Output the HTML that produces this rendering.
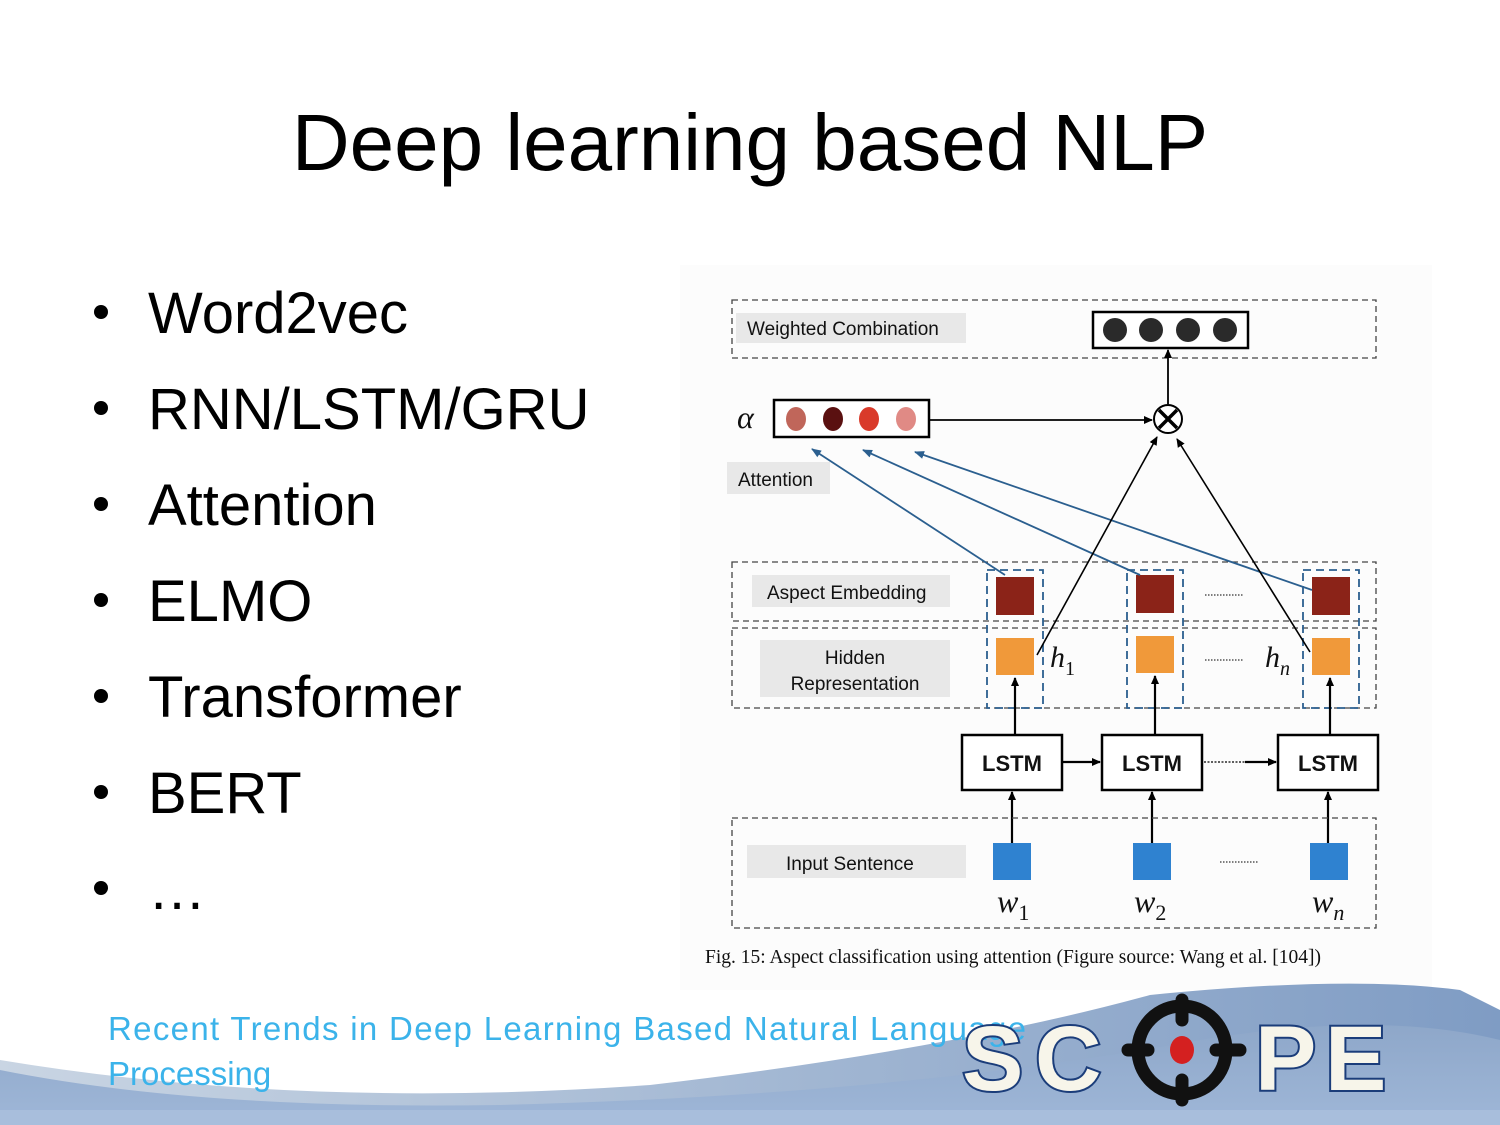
<!DOCTYPE html>
<html><head><meta charset="utf-8"><style>
html,body{margin:0;padding:0;background:#fff}
svg{display:block}
</style></head><body>
<svg width="1500" height="1125" viewBox="0 0 1500 1125" xmlns="http://www.w3.org/2000/svg">
<defs>
<marker id="ak" markerWidth="10" markerHeight="10" refX="8" refY="5" orient="auto" markerUnits="userSpaceOnUse"><path d="M0,1 L9,5 L0,9 Z" fill="#000"/></marker>
<marker id="ab" markerWidth="12" markerHeight="10" refX="9" refY="5" orient="auto" markerUnits="userSpaceOnUse"><path d="M0,1 L10,5 L0,9 Z" fill="#2b5f8f"/></marker>
<linearGradient id="band" x1="0" y1="0" x2="0" y2="1"><stop offset="0" stop-color="#8ea7c9"/><stop offset="1" stop-color="#9fb7d8"/></linearGradient>
<linearGradient id="band2" x1="0" y1="0" x2="1" y2="0"><stop offset="0" stop-color="#c9d5e3"/><stop offset="1" stop-color="#7f9cc4"/></linearGradient>
</defs>
<rect width="1500" height="1125" fill="#fff"/>
<text x="750" y="170" text-anchor="middle" font-family="Liberation Sans, sans-serif" font-size="80" fill="#000">Deep learning based NLP</text>
<g font-family="Liberation Sans, sans-serif" font-size="58" fill="#000">
<circle cx="101" cy="312" r="7"/><text x="148" y="333">Word2vec</text>
<circle cx="101" cy="408" r="7"/><text x="148" y="429">RNN/LSTM/GRU</text>
<circle cx="101" cy="504" r="7"/><text x="148" y="525">Attention</text>
<circle cx="101" cy="600" r="7"/><text x="148" y="621">ELMO</text>
<circle cx="101" cy="696" r="7"/><text x="148" y="717">Transformer</text>
<circle cx="101" cy="792" r="7"/><text x="148" y="813">BERT</text>
<circle cx="101" cy="888" r="7"/><text x="148" y="909">…</text>
</g>
<rect x="680" y="265" width="752" height="725" fill="#fcfcfc"/>
<g font-family="Liberation Sans, sans-serif" font-size="19" fill="#111">
<rect x="732" y="300" width="644" height="58" fill="none" stroke="#444" stroke-width="1.3" stroke-dasharray="6,4"/>
<rect x="736" y="313" width="230" height="30" fill="#e8e8e8"/>
<text x="747" y="335">Weighted Combination</text>
<rect x="1093" y="312" width="155" height="36" fill="#fff" stroke="#000" stroke-width="2.5"/>
<circle cx="1115" cy="330" r="12" fill="#2a2a2a"/><circle cx="1151" cy="330" r="12" fill="#2a2a2a"/><circle cx="1188" cy="330" r="12" fill="#2a2a2a"/><circle cx="1225" cy="330" r="12" fill="#2a2a2a"/>
<line x1="1168" y1="404" x2="1168" y2="350" stroke="#000" stroke-width="1.8" marker-end="url(#ak)"/>
<text x="737" y="428" font-family="Liberation Serif, serif" font-style="italic" font-size="32">α</text>
<rect x="774" y="400" width="155" height="37" fill="#fff" stroke="#000" stroke-width="2.5"/>
<ellipse cx="796" cy="419" rx="10" ry="12" fill="#c0665a"/><ellipse cx="833" cy="419" rx="10" ry="12" fill="#5a1010"/><ellipse cx="869" cy="419" rx="10" ry="12" fill="#d93a2a"/><ellipse cx="906" cy="419" rx="10" ry="12" fill="#e08a85"/>
<line x1="929" y1="420" x2="1152" y2="420" stroke="#000" stroke-width="1.8" marker-end="url(#ak)"/>
<circle cx="1168" cy="419" r="14" fill="#fff" stroke="#000" stroke-width="2"/>
<path d="M1159,410 L1177,428 M1177,410 L1159,428" stroke="#000" stroke-width="3.5"/>
<rect x="727" y="462" width="103" height="32" fill="#e8e8e8"/>
<text x="738" y="486">Attention</text>
<rect x="732" y="562" width="644" height="59" fill="none" stroke="#444" stroke-width="1.3" stroke-dasharray="6,4"/>
<rect x="752" y="575" width="198" height="32" fill="#e8e8e8"/>
<text x="767" y="599">Aspect Embedding</text>
<rect x="732" y="628" width="644" height="80" fill="none" stroke="#444" stroke-width="1.3" stroke-dasharray="6,4"/>
<rect x="760" y="640" width="190" height="57" fill="#e8e8e8"/>
<text x="855" y="664" text-anchor="middle">Hidden</text>
<text x="855" y="690" text-anchor="middle">Representation</text>
<g fill="none" stroke="#2b5f8f" stroke-width="1.8" stroke-dasharray="8,5">
<rect x="987" y="570" width="56" height="138"/><rect x="1127" y="570" width="56" height="138"/><rect x="1303" y="570" width="56" height="138"/>
</g>
<g fill="#8b2318"><rect x="996" y="577" width="38" height="38"/><rect x="1136" y="575" width="38" height="38"/><rect x="1312" y="577" width="38" height="38"/></g>
<g fill="#f0993a"><rect x="996" y="638" width="38" height="37"/><rect x="1136" y="636" width="38" height="37"/><rect x="1312" y="638" width="38" height="37"/></g>
<g stroke="#2b5f8f" stroke-width="1.8" fill="none">
<line x1="1005" y1="575" x2="812" y2="449" marker-end="url(#ab)"/>
<line x1="1140" y1="575" x2="863" y2="450" marker-end="url(#ab)"/>
<line x1="1312" y1="590" x2="915" y2="452" marker-end="url(#ab)"/>
</g>
<line x1="1037" y1="655" x2="1157" y2="437" stroke="#000" stroke-width="1.6" marker-end="url(#ak)"/>
<line x1="1310" y1="652" x2="1177" y2="439" stroke="#000" stroke-width="1.6" marker-end="url(#ak)"/>
<text x="1050" y="667" font-family="Liberation Serif, serif" font-style="italic" font-size="30">h<tspan font-size="20" font-style="normal" dy="8">1</tspan></text>
<text x="1265" y="667" font-family="Liberation Serif, serif" font-style="italic" font-size="30">h<tspan font-size="20" dy="8">n</tspan></text>
<g stroke="#333" stroke-width="1.2" stroke-dasharray="1.5,1.5"><line x1="1205" y1="595" x2="1243" y2="595"/><line x1="1205" y1="660" x2="1243" y2="660"/><line x1="1220" y1="862" x2="1258" y2="862"/></g>
<g fill="#fff" stroke="#000" stroke-width="2.5"><rect x="962" y="735" width="100" height="55"/><rect x="1102" y="735" width="100" height="55"/><rect x="1278" y="735" width="100" height="55"/></g>
<g font-weight="bold" font-size="22" text-anchor="middle"><text x="1012" y="771">LSTM</text><text x="1152" y="771">LSTM</text><text x="1328" y="771">LSTM</text></g>
<g stroke="#000" stroke-width="2.2">
<line x1="1015" y1="735" x2="1015" y2="678" marker-end="url(#ak)"/><line x1="1155" y1="735" x2="1155" y2="676" marker-end="url(#ak)"/><line x1="1330" y1="735" x2="1330" y2="678" marker-end="url(#ak)"/>
<line x1="1012" y1="843" x2="1012" y2="792" marker-end="url(#ak)"/><line x1="1152" y1="843" x2="1152" y2="792" marker-end="url(#ak)"/><line x1="1328" y1="843" x2="1328" y2="792" marker-end="url(#ak)"/>
<line x1="1062" y1="762" x2="1100" y2="762" marker-end="url(#ak)"/>
<line x1="1245" y1="762" x2="1276" y2="762" marker-end="url(#ak)"/>
</g>
<line x1="1204" y1="762" x2="1245" y2="762" stroke="#000" stroke-width="1.3" stroke-dasharray="2,1.5"/>
<rect x="732" y="818" width="644" height="110" fill="none" stroke="#444" stroke-width="1.3" stroke-dasharray="6,4"/>
<rect x="747" y="845" width="219" height="33" fill="#e8e8e8"/>
<text x="786" y="870">Input Sentence</text>
<g fill="#2f82d0"><rect x="993" y="843" width="38" height="37"/><rect x="1133" y="843" width="38" height="37"/><rect x="1310" y="843" width="38" height="37"/></g>
<g font-family="Liberation Serif, serif" font-style="italic" font-size="32">
<text x="997" y="912">w<tspan font-style="normal" font-size="22" dy="8">1</tspan></text>
<text x="1134" y="912">w<tspan font-style="normal" font-size="22" dy="8">2</tspan></text>
<text x="1312" y="912">w<tspan font-size="22" dy="8">n</tspan></text>
</g>
<text x="705" y="963" font-family="Liberation Serif, serif" font-size="19.5">Fig. 15: Aspect classification using attention (Figure source:  Wang et al. [104])</text>
</g>
<path d="M0,1060 Q300,1110 650,1085 Q950,1050 1150,995 Q1350,975 1460,990 L1500,1010 L1500,1125 L0,1125 Z" fill="url(#band2)"/>
<path d="M0,1070 Q200,1110 500,1105 Q900,1095 1200,1040 Q1380,1010 1500,1040 L1500,1125 L0,1125 Z" fill="url(#band)"/>
<path d="M0,1110 L1500,1110 L1500,1125 L0,1125Z" fill="#a8bedc"/>
<path d="M330,1020 Q700,1030 1000,1010" stroke="#fff" stroke-width="1" fill="none"/>
<g font-family="Liberation Sans, sans-serif" font-size="33" fill="#3bb3ea">
<text x="108" y="1040" textLength="918">Recent Trends in Deep Learning Based Natural Language</text>
<text x="108" y="1085">Processing</text>
</g>
<g font-family="Liberation Sans, sans-serif" font-weight="bold" font-size="92" fill="#f7f5ea" stroke="#1b3d7a" stroke-width="4" paint-order="stroke">
<text x="962" y="1090">S</text><text x="1035" y="1090">C</text><text x="1255" y="1090">P</text><text x="1325" y="1090">E</text>
</g>
<circle cx="1182" cy="1050" r="44" fill="none" stroke="#111" stroke-width="13"/>
<g stroke="#111" stroke-width="13" stroke-linecap="round"><line x1="1182" y1="1000" x2="1182" y2="1020"/><line x1="1182" y1="1080" x2="1182" y2="1100"/><line x1="1128" y1="1050" x2="1148" y2="1050"/><line x1="1216" y1="1050" x2="1240" y2="1050"/></g>
<ellipse cx="1182" cy="1050" rx="12" ry="14" fill="#d42020"/>
</svg>
</body></html>
